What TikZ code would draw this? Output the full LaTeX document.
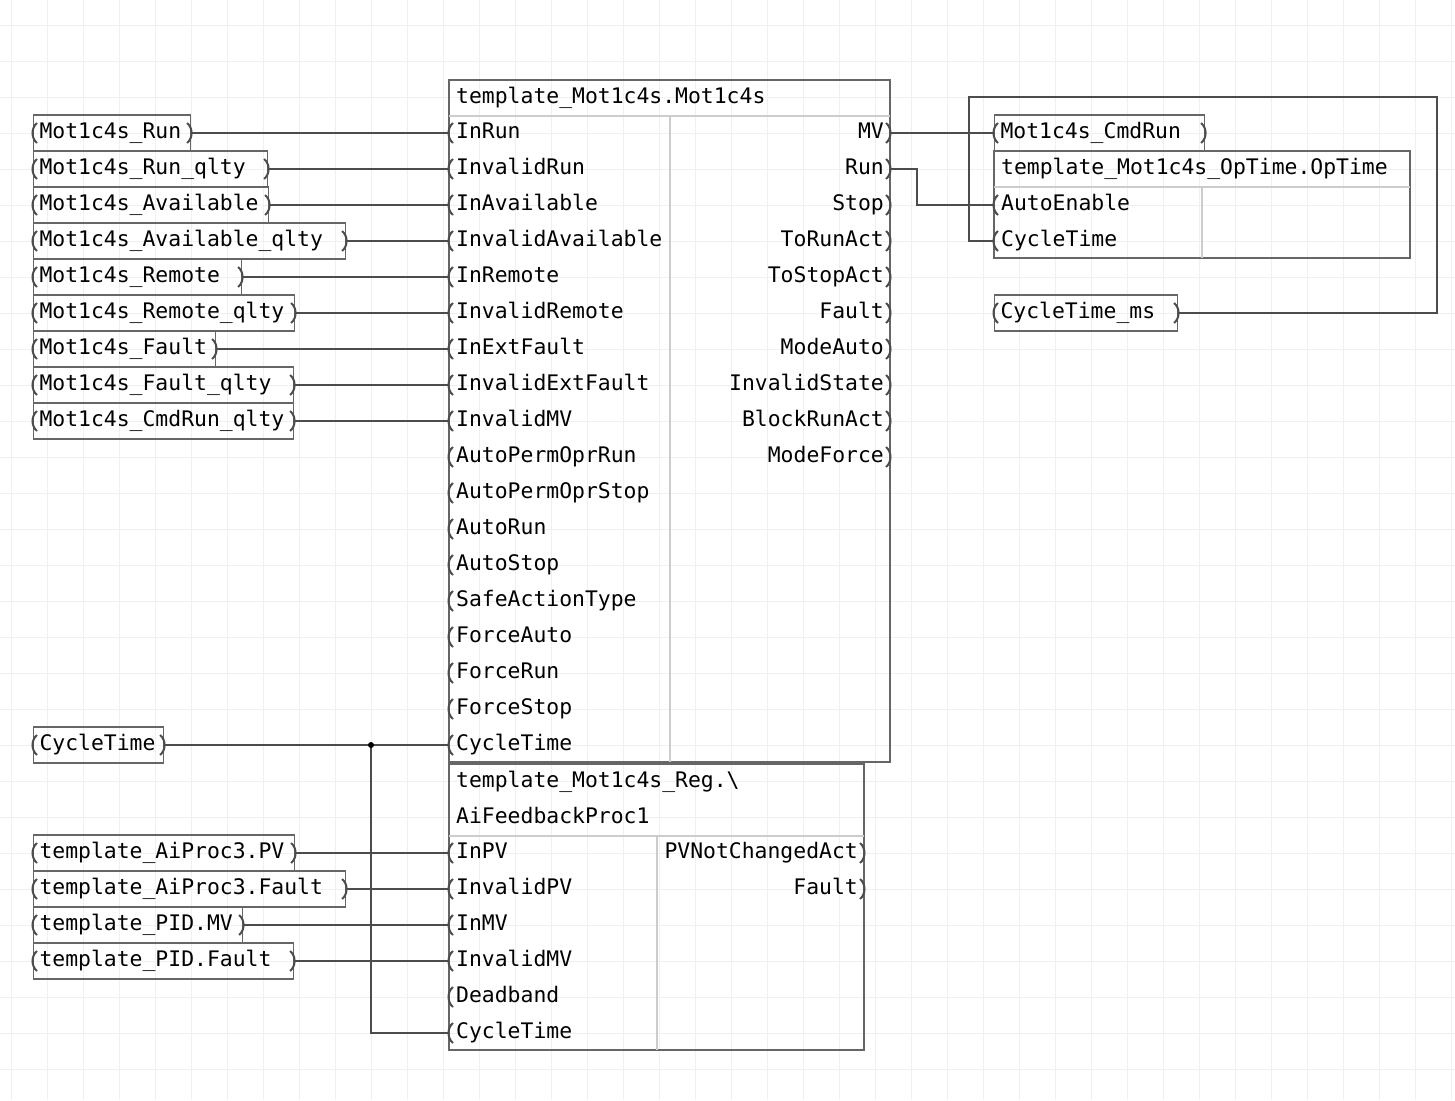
\documentclass[tikz,border=0pt]{standalone}
\usepackage{fontspec}
\setmonofont{DejaVu Sans Mono}
\usetikzlibrary{calc}
\usetikzlibrary{positioning}

\tikzset{
  wire/.style={draw=black!70, line width=1.1},
  box/.style={draw=black!60, line width=1.1},
  sep/.style={draw=black!20, line width=1.1},
  var/.style={box, rectangle, anchor=west, minimum height=36, inner xsep=6, inner ysep=0,
              text height=15, text depth=5,
              text width=#1-12, align=left, font=\ttfamily\fontsize{21.4}{24}\selectfont},
  lbl/.style={inner sep=0, text height=15, text depth=5, font=\ttfamily\fontsize{21.4}{24}\selectfont},
  pinmark/.style={draw=black!70, line width=2},
}
\newcommand\pinL[1]{\draw[pinmark] ([shift={(4,-10)}]#1) .. controls ([shift={(-2,-5)}]#1) and ([shift={(-2,5)}]#1) .. ([shift={(4,10)}]#1);}
\newcommand\pinR[1]{\draw[pinmark] ([shift={(-4,-10)}]#1) .. controls ([shift={(2,-5)}]#1) and ([shift={(2,5)}]#1) .. ([shift={(-4,10)}]#1);}

\begin{document}
\begin{tikzpicture}[x=1pt, y=-1pt]
  \useasboundingbox (0,0) rectangle (1455,1100);
  % grid
  \foreach \g in {0,36,...,1452} \draw[black!6, line width=0.8] (\g+11,0) -- (\g+11,1100);
  \foreach \g in {0,36,...,1098} \draw[black!6, line width=0.8] (0,\g+25) -- (1455,\g+25);

  % main block
  \draw[box] (449,80) rectangle (890,762);
  \draw[sep] (449,116) -- (890,116);
  \draw[sep] (670,116) -- (670,762);
  \node[lbl, anchor=west] (mainT) at (456,98) {template\_Mot1c4s.Mot1c4s};
  \foreach \t [count=\i from 0] in {InRun,InvalidRun,InAvailable,InvalidAvailable,InRemote,InvalidRemote,InExtFault,InvalidExtFault,InvalidMV,AutoPermOprRun,AutoPermOprStop,AutoRun,AutoStop,SafeActionType,ForceAuto,ForceRun,ForceStop,CycleTime} {
    \coordinate (mi\i) at (449,133+36*\i);
    \node[lbl, anchor=west] at (456,133+36*\i) {\t};
    \pinL{mi\i}
  }
  \foreach \t [count=\i from 0] in {MV,Run,Stop,ToRunAct,ToStopAct,Fault,ModeAuto,InvalidState,BlockRunAct,ModeForce} {
    \coordinate (mo\i) at (890,133+36*\i);
    \node[lbl, anchor=east] at (884,133+36*\i) {\t};
    \pinR{mo\i}
  }

  % register block
  \draw[box] (449,764) rectangle (864,1050);
  \draw[sep] (449,836) -- (864,836);
  \draw[sep] (657,836) -- (657,1050);
  \node[lbl, anchor=west] (regT) at (456,782) {template\_Mot1c4s\_Reg.\textbackslash};
  \node[lbl, anchor=west] (regT2) at (456,818) {AiFeedbackProc1};
  \foreach \t [count=\i from 0] in {InPV,InvalidPV,InMV,InvalidMV,Deadband,CycleTime} {
    \coordinate (ri\i) at (449,853+36*\i);
    \node[lbl, anchor=west] at (456,853+36*\i) {\t};
    \pinL{ri\i}
  }
  \foreach \t [count=\i from 0] in {PVNotChangedAct,Fault} {
    \coordinate (ro\i) at (864,853+36*\i);
    \node[lbl, anchor=east] at (858,853+36*\i) {\t};
    \pinR{ro\i}
  }

  % optime block
  \draw[box] (994,151) rectangle (1410,258);
  \draw[sep] (994,187) -- (1410,187);
  \draw[sep] (1202,187) -- (1202,258);
  \node[lbl, anchor=west] (opT) at (1001,169) {template\_Mot1c4s\_OpTime.OpTime};
  \foreach \t [count=\i from 0] in {AutoEnable,CycleTime} {
    \coordinate (oi\i) at (994,205+36*\i);
    \node[lbl, anchor=west] at (1001,205+36*\i) {\t};
    \pinL{oi\i}
  }

  % input variables
  \foreach \t/\w [count=\i from 0] in {Mot1c4s\_Run/157,Mot1c4s\_Run\_qlty/234,Mot1c4s\_Available/235,Mot1c4s\_Available\_qlty/312,Mot1c4s\_Remote/208,Mot1c4s\_Remote\_qlty/261,Mot1c4s\_Fault/182,Mot1c4s\_Fault\_qlty/260,Mot1c4s\_CmdRun\_qlty/260} {
    \node[var=\w] (v\i) at (33,133+36*\i) {\t};
    \pinL{v\i.west} \pinR{v\i.east}
    \draw[wire] (v\i.east) -- (mi\i);
  }
  \foreach \t/\w [count=\i from 0] in {template\_AiProc3.PV/261,template\_AiProc3.Fault/312,template\_PID.MV/209,template\_PID.Fault/260} {
    \node[var=\w] (a\i) at (33,853+36*\i) {\t};
    \pinL{a\i.west} \pinR{a\i.east}
    \draw[wire] (a\i.east) -- (ri\i);
  }
  \node[var=130] (cyc) at (33,745) {CycleTime};
  \pinL{cyc.west} \pinR{cyc.east}
  \node[var=210] (cmd) at (994,133) {Mot1c4s\_CmdRun};
  \pinL{cmd.west} \pinR{cmd.east}
  \node[var=183] (cms) at (994,313) {CycleTime\_ms};
  \pinL{cms.west} \pinR{cms.east}

  % wires
  \coordinate (jn) at (371,745);
  \draw[wire] (cyc.east) -- (mi17);
  \draw[wire] (jn) |- (ri5);
  \fill[black] (jn) circle (3);
  \draw[wire] (mo0) -- (cmd.west);
  \draw[wire] (mo1) -| (917,205) -- (oi0);
  \draw[wire] (cms.east) -| (1437,97) -| (969,241) -- (oi1);
\end{tikzpicture}
\end{document}
